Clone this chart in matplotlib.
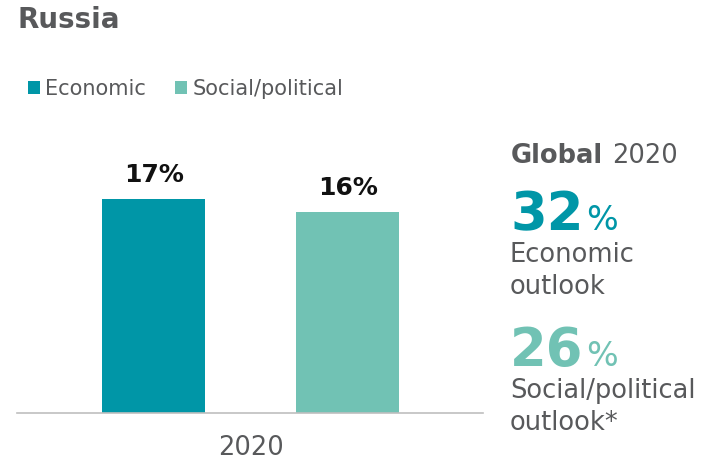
import numpy as np
import matplotlib.pyplot as plt

# DATOS
categorias = ["Economic", "Social/political"]
valores_rusia = [17, 16]
anio = "2020"
global_valores = [32, 26]
global_textos = ["Economic\noutlook", "Social/political\noutlook*"]

# COLORES
TEAL = "#0096A7"
MINT = "#71C2B4"
GRIS = "#58595B"

W, H = 708, 462
fig = plt.figure(figsize=(W / 100, H / 100), dpi=100)


def fx(px):
    return px / W


def fy(py):
    return 1 - py / H


# EJE DE BARRAS
ax = fig.add_axes([fx(17), fy(413), fx(483) - fx(17), (413 - 161.4) / H])
pos = np.arange(len(categorias))
barras = ax.bar(pos, valores_rusia, width=0.53, color=[TEAL, MINT])
ax.set_xlim(-0.704, 1.698)
ax.set_ylim(0, 20)

for b, v in zip(barras, valores_rusia):
    ax.annotate(f"{v}%", (b.get_x() + b.get_width() / 2, v),
                xytext=(0, 12), textcoords="offset points",
                ha="center", va="baseline", fontsize=18,
                fontweight="bold", color="#111111")

for s in ["top", "left", "right"]:
    ax.spines[s].set_visible(False)
ax.spines["bottom"].set_color("#BFBFBF")
ax.spines["bottom"].set_linewidth(1.2)
ax.set_yticks([])
ax.set_xticks([0.5])
ax.set_xticklabels([anio], fontsize=18.5, color=GRIS)
ax.tick_params(axis="x", length=0, pad=16)

# TITULO
fig.text(fx(17), fy(28), "Russia", fontsize=20, fontweight="bold",
         color=GRIS, va="baseline")

# LEYENDA
fig.legend(barras, categorias, loc="lower left",
           bbox_to_anchor=(fx(28), fy(99)), ncol=2, frameon=False,
           borderpad=0, borderaxespad=0, handlelength=0.58,
           handleheight=0.58, handletextpad=0.25, columnspacing=1.4,
           fontsize=15, labelcolor=GRIS)

# PANEL GLOBAL
fig.canvas.draw()
rend = fig.canvas.get_renderer()


def junto(t_prev, texto, gap_px, **kw):
    bb = t_prev.get_window_extent(rend)
    x = (bb.x1 + gap_px) / W
    y = t_prev.get_position()[1]
    return fig.text(x, y, texto, va="baseline", **kw)


t = fig.text(fx(511), fy(163), "Global", fontsize=18.5, fontweight="bold",
             color=GRIS, va="baseline")
junto(t, anio, 9, fontsize=18.5, color=GRIS)

colores = [TEAL, MINT]
bases = [230, 366]
for v, txt, c, b in zip(global_valores, global_textos, colores, bases):
    tn = fig.text(fx(510), fy(b), str(v), fontsize=38, fontweight="bold",
                  color=c, va="baseline")
    junto(tn, "%", 3, fontsize=24, color=c)
    lineas = txt.split("\n")
    for i, l in enumerate(lineas):
        fig.text(fx(510), fy(b + 32 + 32 * i), l, fontsize=18.5,
                 color=GRIS, va="baseline")

fig.savefig("out.png", dpi=100)
